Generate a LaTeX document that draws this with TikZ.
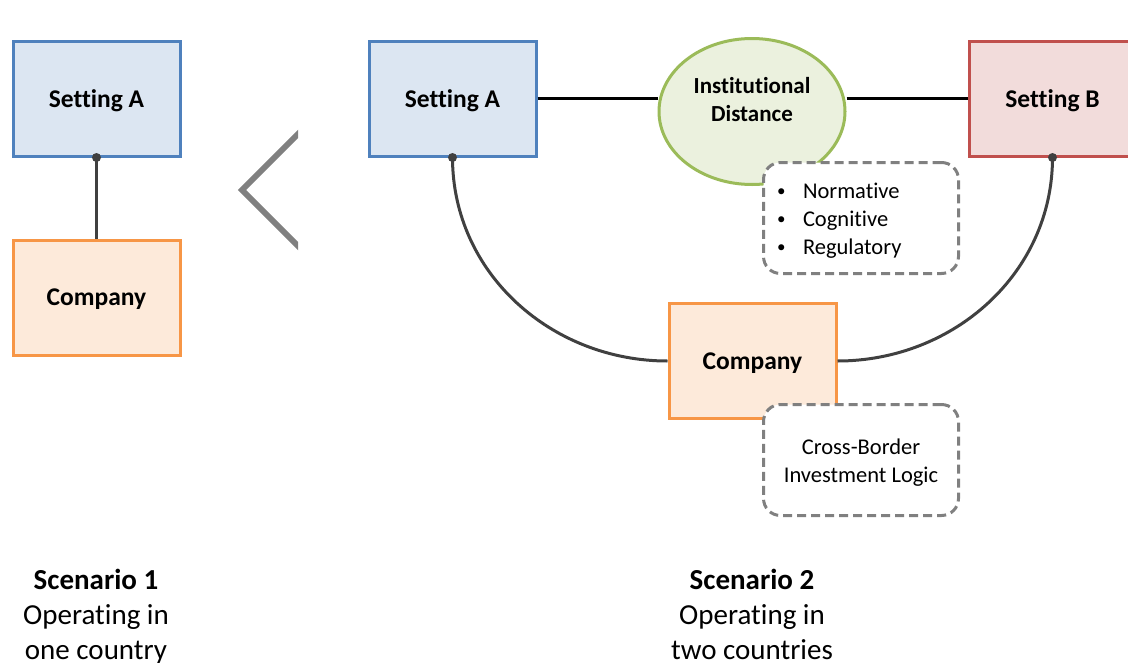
\documentclass[tikz,border=0pt]{standalone}
\usepackage{fontspec}
\setmainfont{Carlito}[Ligatures=NoCommon]
\usetikzlibrary{shapes.geometric}

\definecolor{settAline}{HTML}{4F81BD}
\definecolor{settAfill}{HTML}{DCE6F2}
\definecolor{settBline}{HTML}{C0504D}
\definecolor{settBfill}{HTML}{F2DCDB}
\definecolor{compline}{HTML}{F79646}
\definecolor{compfill}{HTML}{FDEADA}
\definecolor{distline}{HTML}{9BBB59}
\definecolor{distfill}{HTML}{EBF1DE}
\definecolor{linkgray}{HTML}{404040}
\definecolor{notegray}{HTML}{808080}

\newcommand{\bul}{\makebox[22pt][l]{\hspace{-4pt}\fontsize{17}{17}\selectfont\raisebox{1.5pt}{•}}}

\tikzset{
  box/.style={draw, line width=3pt, minimum width=167pt, minimum height=115pt,
    inner sep=0pt, text depth=0pt, font=\fontsize{25.5}{30}\selectfont\bfseries},
  settingA/.style={box, draw=settAline, fill=settAfill},
  settingB/.style={box, draw=settBline, fill=settBfill},
  company/.style={box, draw=compline, fill=compfill},
  instdist/.style={ellipse, draw=distline, fill=distfill, line width=3pt,
    minimum width=186pt, minimum height=146pt, inner sep=0pt},
  note/.style={draw=notegray, fill=white, line width=3pt, rounded corners=17pt,
    dash pattern=on 9pt off 5pt, minimum width=195pt, minimum height=111pt,
    font=\fontsize{22.5}{28}\selectfont},
  link/.style={draw=linkgray, line width=3pt},
  scen/.style={align=center, text depth=0pt, font=\fontsize{29}{35}\selectfont}
}

\begin{document}
\begin{tikzpicture}[x=1pt, y=-1pt]
    \useasboundingbox (0,0) rectangle (1128,662);

    % scenario 1
    \node[settingA] (setA1) at (96.5,98.5) {Setting A};
    \node[company] (comp1) at (96.5,297.5) {Company};
    \draw[link] (setA1.south) -- (comp1.north);
    \fill[linkgray] (setA1.south) circle (4.5pt);

    % the "<" between the two scenarios
    \begin{scope}
        \clip (200,100) rectangle (298,290);
        \draw[notegray, line width=6pt] (320,112) -- (242,190) -- (320,268);
    \end{scope}

    % scenario 2
    \node[settingA] (setA2) at (452.5,98.5) {Setting A};
    \node[settingB] (setB) at (1052.5,98.5) {Setting B};
    \node[instdist] (dist) at (752,111.5) {};
    \node[font=\fontsize{23}{28}\selectfont\bfseries, align=center] (distText) at (752,100) {Institutional\\Distance};
    \node[company] (comp2) at (752.5,361) {Company};

    \draw[black, line width=3pt] (setA2.east) -- (dist.west |- setA2.east);
    \draw[black, line width=3pt] (dist.east |- setB.west) -- (setB.west);

    \draw[link] (setA2.south) to[out=-90, in=180] (comp2.west);
    \draw[link] (setB.south) to[out=-90, in=0] (comp2.east);
    \fill[linkgray] (setA2.south) circle (4.5pt);
    \fill[linkgray] (setB.south) circle (4.5pt);

    \node[note] (pillars) at (861,218) {};
    \node[font=\fontsize{22.5}{28}\selectfont, text width=157pt, align=left] (pillarText) at (859.5,220.5)
        {\bul Normative\\\bul Cognitive\\\bul Regulatory};
    \node[note] (logic) at (861,460) {};
    \node[font=\fontsize{22.5}{28}\selectfont, align=center] (logicText) at (861,462.5) {Cross-Border\\Investment Logic};

    % captions
    \node[scen] (scen1) at (96,614.5) {\textbf{Scenario 1}\\Operating in\\one country};
    \node[scen] (scen2) at (752,614.5) {\textbf{Scenario 2}\\Operating in\\two countries};
\end{tikzpicture}
\end{document}
